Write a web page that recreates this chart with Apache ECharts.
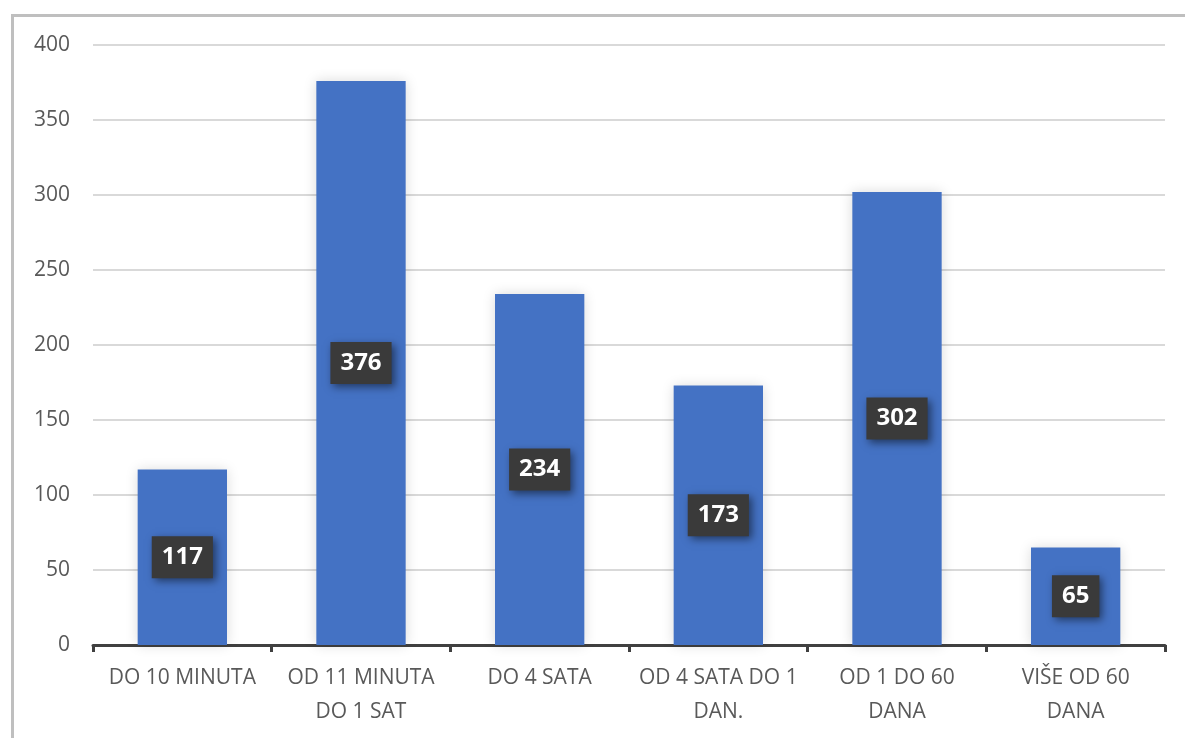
<!DOCTYPE html>
<html><head><meta charset="utf-8">
<script src="https://cdn.jsdelivr.net/npm/echarts@6/dist/echarts.min.js"></script>
<style>html,body{margin:0;padding:0;background:#fff}#c{width:1185px;height:738px}</style>
</head><body><div id="c"></div>
<script>
const categories = ['DO 10 MINUTA', 'OD 11 MINUTA\nDO 1 SAT', 'DO 4 SATA', 'OD 4 SATA DO 1\nDAN.', 'OD 1 DO 60\nDANA', 'VIŠE OD 60\nDANA'];
const values = [117, 376, 234, 173, 302, 65];
const yMin = 0, yMax = 400, yStep = 50;

const chart = echarts.init(document.getElementById('c'));
chart.setOption({
  animation: false,
  graphic: [{
    type: 'rect', left: 10, top: 13, z: -1,
    shape: { width: 1200, height: 800 },
    style: { fill: 'none', stroke: '#bfbfbf', lineWidth: 3 }
  }],
  grid: { left: 93, right: 20, top: 45, bottom: 93 },
  xAxis: {
    type: 'category', data: categories,
    axisLine: { lineStyle: { color: '#404040', width: 3 } },
    axisTick: { show: true, length: 7, lineStyle: { color: '#404040', width: 3 } },
    axisLabel: { color: '#595959', fontSize: 21, fontFamily: 'Open Sans', lineHeight: 34, margin: 16, interval: 0 }
  },
  yAxis: {
    type: 'value', min: yMin, max: yMax, interval: yStep,
    axisLine: { show: false }, axisTick: { show: false },
    splitLine: { lineStyle: { color: '#d9d9d9', width: 2 } },
    axisLabel: { color: '#595959', fontSize: 21, fontFamily: 'Open Sans', margin: 23 }
  },
  series: [{
    type: 'bar', data: values, barWidth: '50%',
    itemStyle: { color: '#4472C4', shadowBlur: 12, shadowColor: 'rgba(0,0,0,0.15)' },
    label: {
      show: true, position: 'inside', color: '#fff', fontSize: 24, fontWeight: 'bold',
      fontFamily: 'Open Sans',
      backgroundColor: '#3a3a3a', padding: [10, 10, 8, 10],
      shadowBlur: 8, shadowColor: 'rgba(0,0,0,0.5)', shadowOffsetX: 3, shadowOffsetY: 3
    }
  }]
});
</script></body></html>
